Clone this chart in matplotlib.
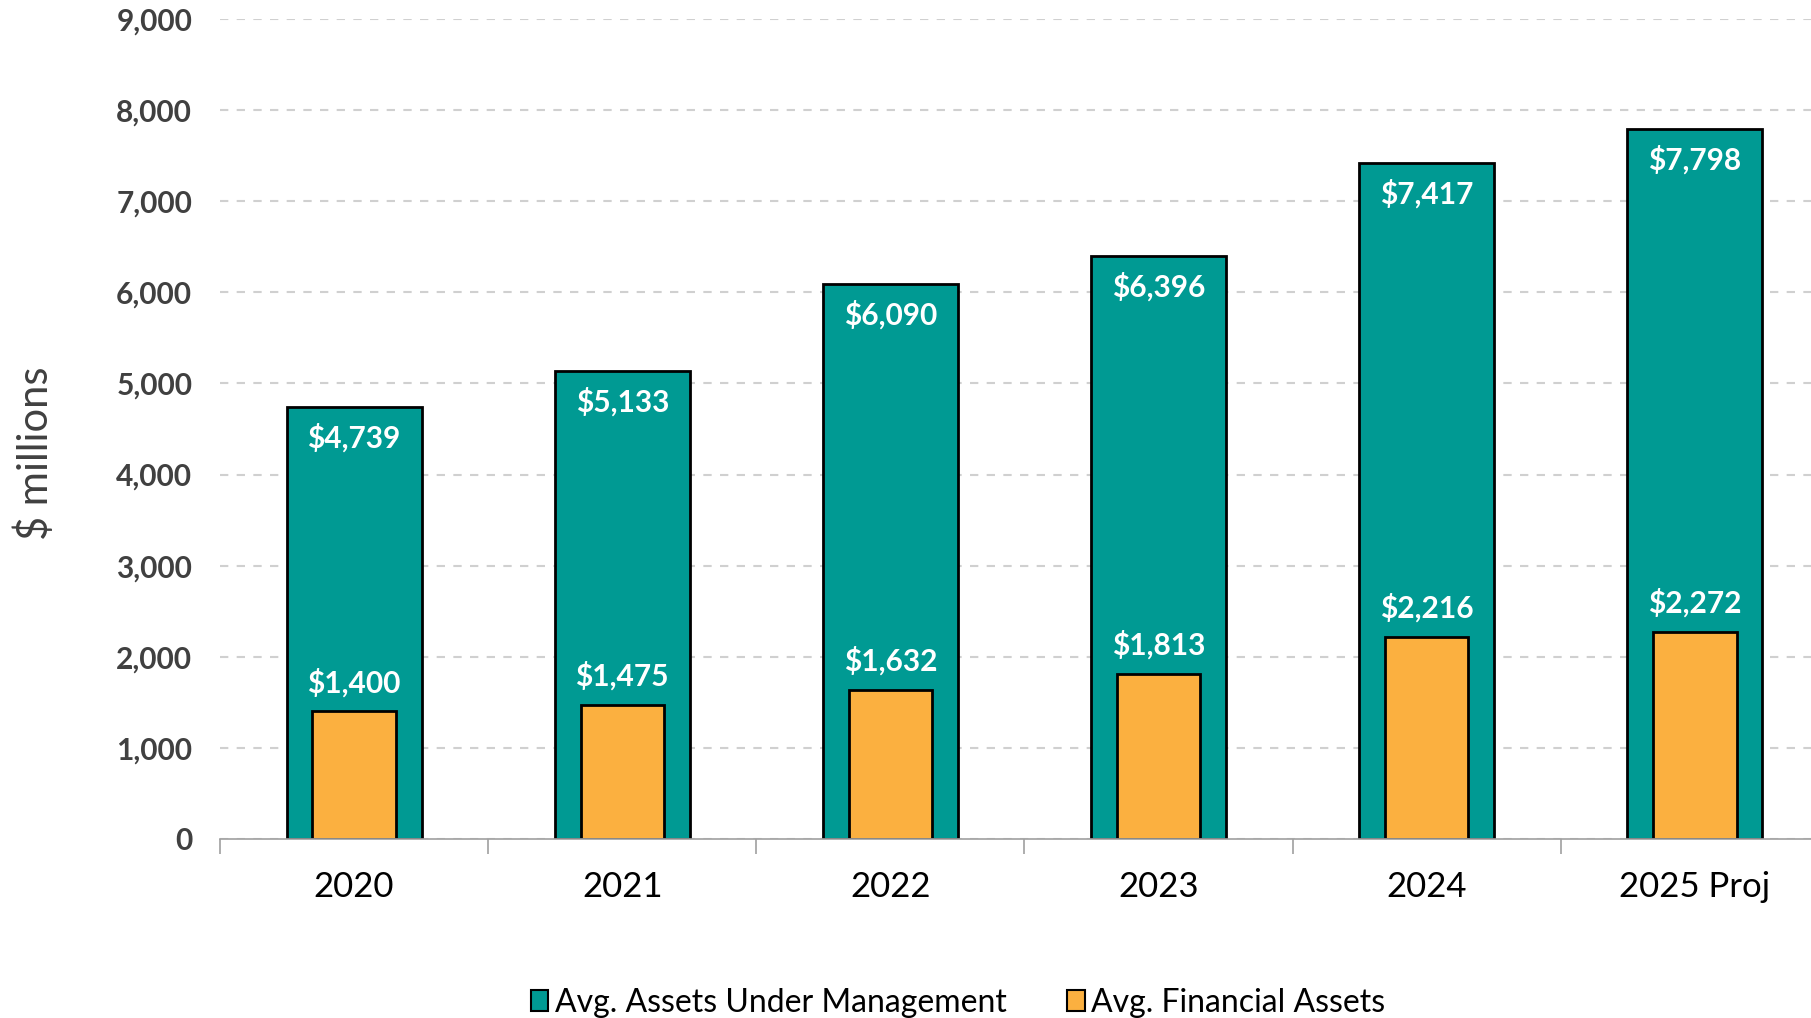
import matplotlib
matplotlib.use("Agg")
import matplotlib.pyplot as plt
import numpy as np
from matplotlib.patches import Patch

categories = ["2020", "2021", "2022", "2023", "2024", "2025 Proj"]
aum = [4739, 5133, 6090, 6396, 7417, 7798]
fin = [1400, 1475, 1632, 1813, 2216, 2272]
yticks = [0, 1000, 2000, 3000, 4000, 5000, 6000, 7000, 8000, 9000]

plt.rcParams['font.family'] = ['Lato', 'DejaVu Sans']

W, H = 1811, 1018
fig = plt.figure(figsize=(W/100, H/100), dpi=100)
ax = fig.add_axes([220/W, 1 - 839/H, (1829-220)/W, (839-19)/H])

x = np.arange(len(categories))
teal = "#009a93"
orange = "#fbb040"
ax.bar(x, aum, width=0.503, color=teal, edgecolor="black", linewidth=2, zorder=3,
       label="Avg. Assets Under Management")
ax.bar(x, fin, width=0.311, color=orange, edgecolor="black", linewidth=2, zorder=4,
       label="Avg. Financial Assets")

for xi, v in zip(x, aum):
    ax.annotate(f"${v:,}", (xi, v), xytext=(0, -31), textcoords="offset pixels",
                ha="center", va="center", color="white", fontsize=21.5, fontweight="bold", zorder=5)
for xi, v in zip(x, fin):
    ax.annotate(f"${v:,}", (xi, v), xytext=(0, 29), textcoords="offset pixels",
                ha="center", va="center", color="white", fontsize=21.5, fontweight="bold", zorder=5)

ax.set_xlim(-0.5, len(categories) - 0.5)
ax.set_ylim(0, 9000)
ax.set_yticks(yticks)
ax.set_yticklabels([f"{t:,}" for t in yticks], fontsize=21.5, fontweight="bold", color="#404040")
ax.set_xticks(x)
ax.set_xticklabels(categories, fontsize=25, color="black")
ax.set_xticks(np.arange(-0.5, len(categories), 1.0), minor=True)
ax.tick_params(axis="x", which="major", length=0, pad=23)
ax.tick_params(axis="x", which="minor", length=11, width=1.2, color="#a0a0a0")
ax.tick_params(axis="y", length=0, pad=20)

ax.grid(axis="y", linestyle=(0, (4, 4)), color="#d0d0d0", linewidth=1.5, zorder=0)
ax.set_axisbelow(True)
for s in ["top", "right", "left"]:
    ax.spines[s].set_visible(False)
ax.spines["bottom"].set_color("#a0a0a0")
ax.spines["bottom"].set_linewidth(1.2)
ax.spines["bottom"].set_zorder(6)

fig.text(35/W, 1 - 453/H, "$ millions", rotation=90, ha="center", va="center",
         fontsize=30, color="#404040")

handles = [Patch(facecolor=teal, edgecolor="black", linewidth=1.5, label="Avg. Assets Under Management"),
           Patch(facecolor=orange, edgecolor="black", linewidth=1.5, label="Avg. Financial Assets")]
fig.legend(handles=handles, loc="center", bbox_to_anchor=(958/W, 1 - 1003/H), ncol=2,
           frameon=False, fontsize=23, handlelength=0.55, handleheight=0.65,
           handletextpad=0.2, columnspacing=1.9)

fig.savefig("out.png", dpi=100)
